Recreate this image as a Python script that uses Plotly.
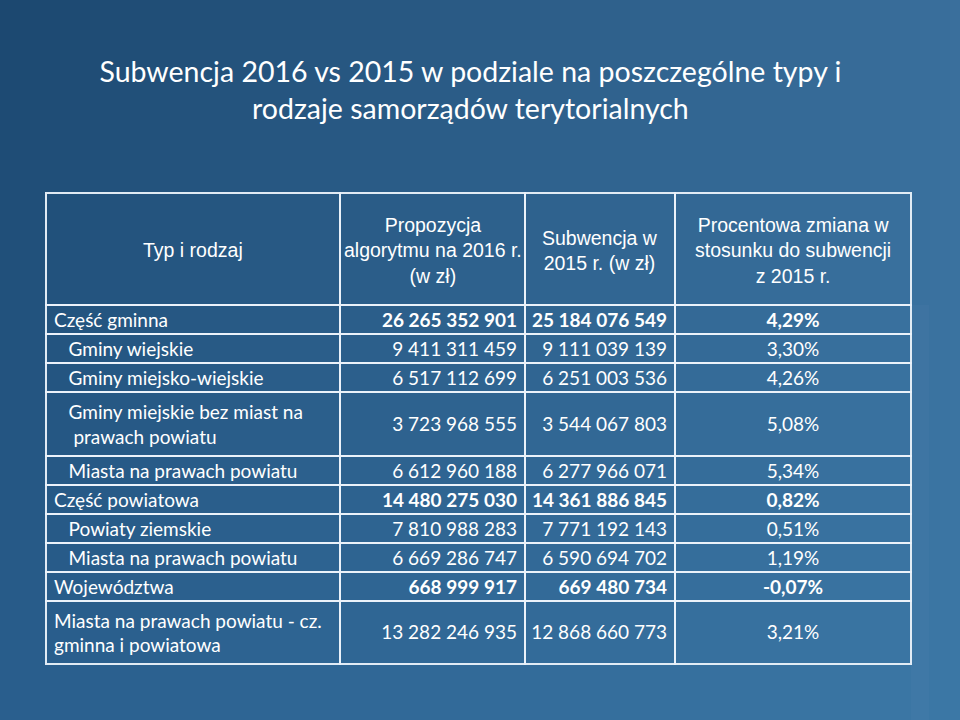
import numpy as np
import plotly.graph_objects as go

# ---------------- data ----------------
title_text = "Subwencja 2016 vs 2015 w podziale na poszczególne typy i<br>rodzaje samorządów terytorialnych"

header_labels = [
    "Typ i rodzaj",
    "Propozycja<br>algorytmu na 2016 r.<br>(w zł)",
    "Subwencja w<br>2015 r. (w zł)",
    "Procentowa zmiana w<br>stosunku do subwencji<br>z 2015 r.",
]

categories = [
    "Część gminna",
    "Gminy wiejskie",
    "Gminy miejsko-wiejskie",
    "Gminy miejskie bez miast na<br> prawach powiatu",
    "Miasta na prawach powiatu",
    "Część powiatowa",
    "Powiaty ziemskie",
    "Miasta na prawach powiatu",
    "Województwa",
    "Miasta na prawach powiatu - cz.<br>gminna i powiatowa",
]
indent_level = [0, 1, 1, 1, 1, 0, 1, 1, 0, 0]
is_total = [True, False, False, False, False, True, False, False, True, False]

amount_2016 = [26265352901, 9411311459, 6517112699, 3723968555, 6612960188,
               14480275030, 7810988283, 6669286747, 668999917, 13282246935]
amount_2015 = [25184076549, 9111039139, 6251003536, 3544067803, 6277966071,
               14361886845, 7771192143, 6590694702, 669480734, 12868660773]
pct_change = [4.29, 3.30, 4.26, 5.08, 5.34, 0.82, 0.51, 1.19, -0.07, 3.21]

# ---------------- layout constants ----------------
NB = "\u00a0"
BODY_SIZE = 19
SPACER_SIZE = 6.5          # tiny first line that pushes a value to the middle of a two-line row
TABLE_LEFT, TABLE_TOP = 46, 193
COL_W = [294, 185, 150, 236]
HEADER_H = 112
ROW_H = 29
FIG_W, FIG_H = 960, 720

two_line = ["<br>" in c for c in categories]


def wrap_value(s, tall):
    s = s.replace(" ", NB)
    if tall:
        s = f"<span style='font-size:{SPACER_SIZE}px'>{NB}</span><br>{s}"
    return s


def fmt_amount(v, tall):
    return wrap_value(f"{v:,}".replace(",", " "), tall)


def fmt_pct(p, tall):
    return wrap_value(f"{p:.2f}".replace(".", ",") + "%", tall)


def fmt_label(lbl, lvl):
    pad = NB * 3 * lvl
    parts = []
    for part in lbl.split("<br>"):
        lead = len(part) - len(part.lstrip(" "))
        parts.append(pad + NB * lead + part.lstrip(" "))
    return "<br>".join(parts)


col_labels = [fmt_label(l, i) for l, i in zip(categories, indent_level)]
# invisible placeholders that give the overlay table the same row heights
col_placeholders = [f"{NB}<br>{NB}" if t else "" for t in two_line]
num_cols = [
    [fmt_amount(v, t) for v, t in zip(amount_2016, two_line)],
    [fmt_amount(v, t) for v, t in zip(amount_2015, two_line)],
    [fmt_pct(p, t) for p, t in zip(pct_change, two_line)],
]
regular_cols = [[s if not b else "" for s, b in zip(col, is_total)] for col in num_cols]
bold_cols = [[s if b else "" for s, b in zip(col, is_total)] for col in num_cols]

# ---------------- background gradient ----------------
H, W = 72, 96
yy, xx = np.mgrid[0:H, 0:W]
u = (xx / (W - 1))[..., None]
v = (yy / (H - 1))[..., None]
c_tl = np.array([28, 72, 112])
c_tr = np.array([58, 111, 156])
c_bl = np.array([42, 95, 142])
c_br = np.array([60, 120, 166])
img = (1 - u) * (1 - v) * c_tl + u * (1 - v) * c_tr + (1 - u) * v * c_bl + u * v * c_br

fig = go.Figure()
fig.add_trace(go.Image(z=img.astype(np.uint8), x0=5, dx=10, y0=5, dy=10,
                       zsmooth="fast", hoverinfo="skip"))

line_color = "rgba(235,242,250,0.95)"
clear = "rgba(0,0,0,0)"
table_w = sum(COL_W)
domain = dict(x=[TABLE_LEFT / FIG_W, (TABLE_LEFT + table_w) / FIG_W], y=[0, 1 - TABLE_TOP / FIG_H])


def make_table(values, weight, grid_color):
    return go.Table(
        domain=domain,
        columnwidth=COL_W,
        header=dict(values=[""] * len(header_labels), height=HEADER_H,
                    fill_color=clear, line=dict(color=grid_color, width=2)),
        cells=dict(
            values=values,
            align=["left", "right", "right", "center"],
            height=ROW_H,
            fill_color=clear,
            line=dict(color=grid_color, width=2),
            font=dict(family="Lato, sans-serif", size=BODY_SIZE, weight=weight, color="white"),
        ),
    )


# regular values + grid
fig.add_trace(make_table([col_labels] + regular_cols, "normal", line_color))
# bold totals overlaid on the same grid geometry
fig.add_trace(make_table([col_placeholders] + bold_cols, "bold", clear))

# header labels: centred line by line inside each header cell
edges = np.concatenate([[0], np.cumsum(COL_W)])
for lbl, a, b in zip(header_labels, edges[:-1], edges[1:]):
    fig.add_annotation(
        text=lbl, xref="paper", yref="paper",
        x=(TABLE_LEFT + (a + b) / 2) / FIG_W, y=1 - (TABLE_TOP + HEADER_H / 2 + 1) / FIG_H,
        xanchor="center", yanchor="middle", align="center", showarrow=False,
        font=dict(family="Liberation Sans, Arial, sans-serif", size=19.5, color="white"),
    )

fig.update_layout(
    width=FIG_W, height=FIG_H,
    margin=dict(l=0, r=0, t=0, b=0),
    paper_bgcolor="#2b5c88",
    plot_bgcolor=clear,
    xaxis=dict(range=[0, FIG_W], visible=False, domain=[0, 1], fixedrange=True),
    yaxis=dict(range=[FIG_H, 0], visible=False, domain=[0, 1], fixedrange=True),
    title=dict(text=title_text, x=0.49, xanchor="center", y=1 - 81.5 / FIG_H, yanchor="middle",
               font=dict(family="Lato, sans-serif", size=28.5, color="white")),
    showlegend=False,
)

fig.write_html("out.html", config={"displayModeBar": False},
               post_script="document.body.style.margin='0';document.body.style.overflow='hidden';")
